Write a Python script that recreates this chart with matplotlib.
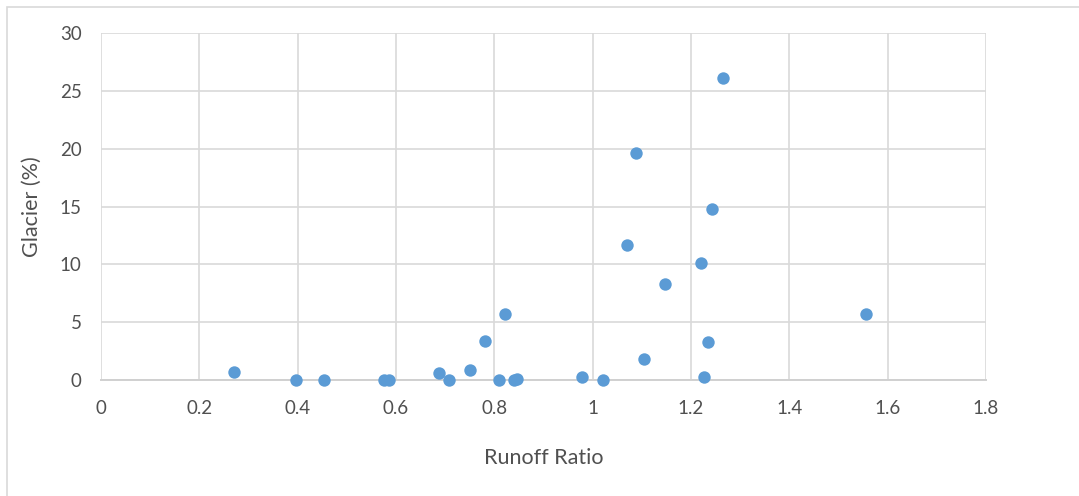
import matplotlib
matplotlib.use("Agg")
import matplotlib.pyplot as plt
from matplotlib.patches import Rectangle

runoff_ratio = [0.270, 0.397, 0.454, 0.576, 0.585, 0.687, 0.707, 0.751, 0.780,
                0.810, 0.822, 0.839, 0.846, 0.978, 1.020, 1.070, 1.088, 1.105,
                1.147, 1.221, 1.227, 1.234, 1.243, 1.266, 1.556]
glacier_pct = [0.67, 0.0, 0.0, 0.0, 0.0, 0.63, 0.0, 0.84, 3.37,
               0.0, 5.70, 0.0, 0.12, 0.26, 0.0, 11.67, 19.6, 1.79,
               8.3, 10.1, 0.26, 3.26, 14.8, 26.1, 5.70]
x_ticks = [0, 0.2, 0.4, 0.6, 0.8, 1.0, 1.2, 1.4, 1.6, 1.8]
x_tick_labels = ["0", "0.2", "0.4", "0.6", "0.8", "1", "1.2", "1.4", "1.6", "1.8"]
y_ticks = [0, 5, 10, 15, 20, 25, 30]

plt.rcParams['font.family'] = ['Lato', 'DejaVu Sans']

W, H = 1079, 496
fig = plt.figure(figsize=(W / 100, H / 100), dpi=100)
fig.patch.set_facecolor("white")
fig.patches.append(Rectangle((7 / W, -0.1), 1.2, 1 - 7 / H + 0.1,
                             transform=fig.transFigure, fill=False,
                             edgecolor="#D9D9D9", linewidth=1.2))

ax = fig.add_axes([101 / W, 1 - 380 / H, (986 - 101) / W, (380 - 33) / H])
ax.scatter(runoff_ratio, glacier_pct, s=80, color="#5B9BD5", zorder=3,
           linewidths=0, clip_on=False)
ax.set_xlim(0, 1.8)
ax.set_ylim(0, 30)
ax.set_xticks(x_ticks)
ax.set_xticklabels(x_tick_labels)
ax.set_yticks(y_ticks)
ax.grid(True, color="#D9D9D9", linewidth=1.2, zorder=0)
ax.set_axisbelow(True)
for side in ["left", "right", "top"]:
    ax.spines[side].set_visible(False)
ax.spines["bottom"].set_color("#D0D0D0")
ax.spines["bottom"].set_linewidth(1.4)
ax.tick_params(axis="both", length=0, labelsize=13.5, labelcolor="#505050")
ax.tick_params(axis="x", pad=14.5)
ax.tick_params(axis="y", pad=14)

ax.set_xlabel("Runoff Ratio", fontsize=15.5, color="#505050")
ax.set_ylabel("Glacier (%)", fontsize=15.5, color="#505050")
ax.xaxis.set_label_coords(0.5, -(458 - 380) / (380 - 33), transform=ax.transAxes)
ax.xaxis.label.set_va("center")
ax.yaxis.set_label_coords(-(101 - 32) / (986 - 101), 0.5, transform=ax.transAxes)
ax.yaxis.label.set_va("center")

fig.savefig("out.png", dpi=100)
